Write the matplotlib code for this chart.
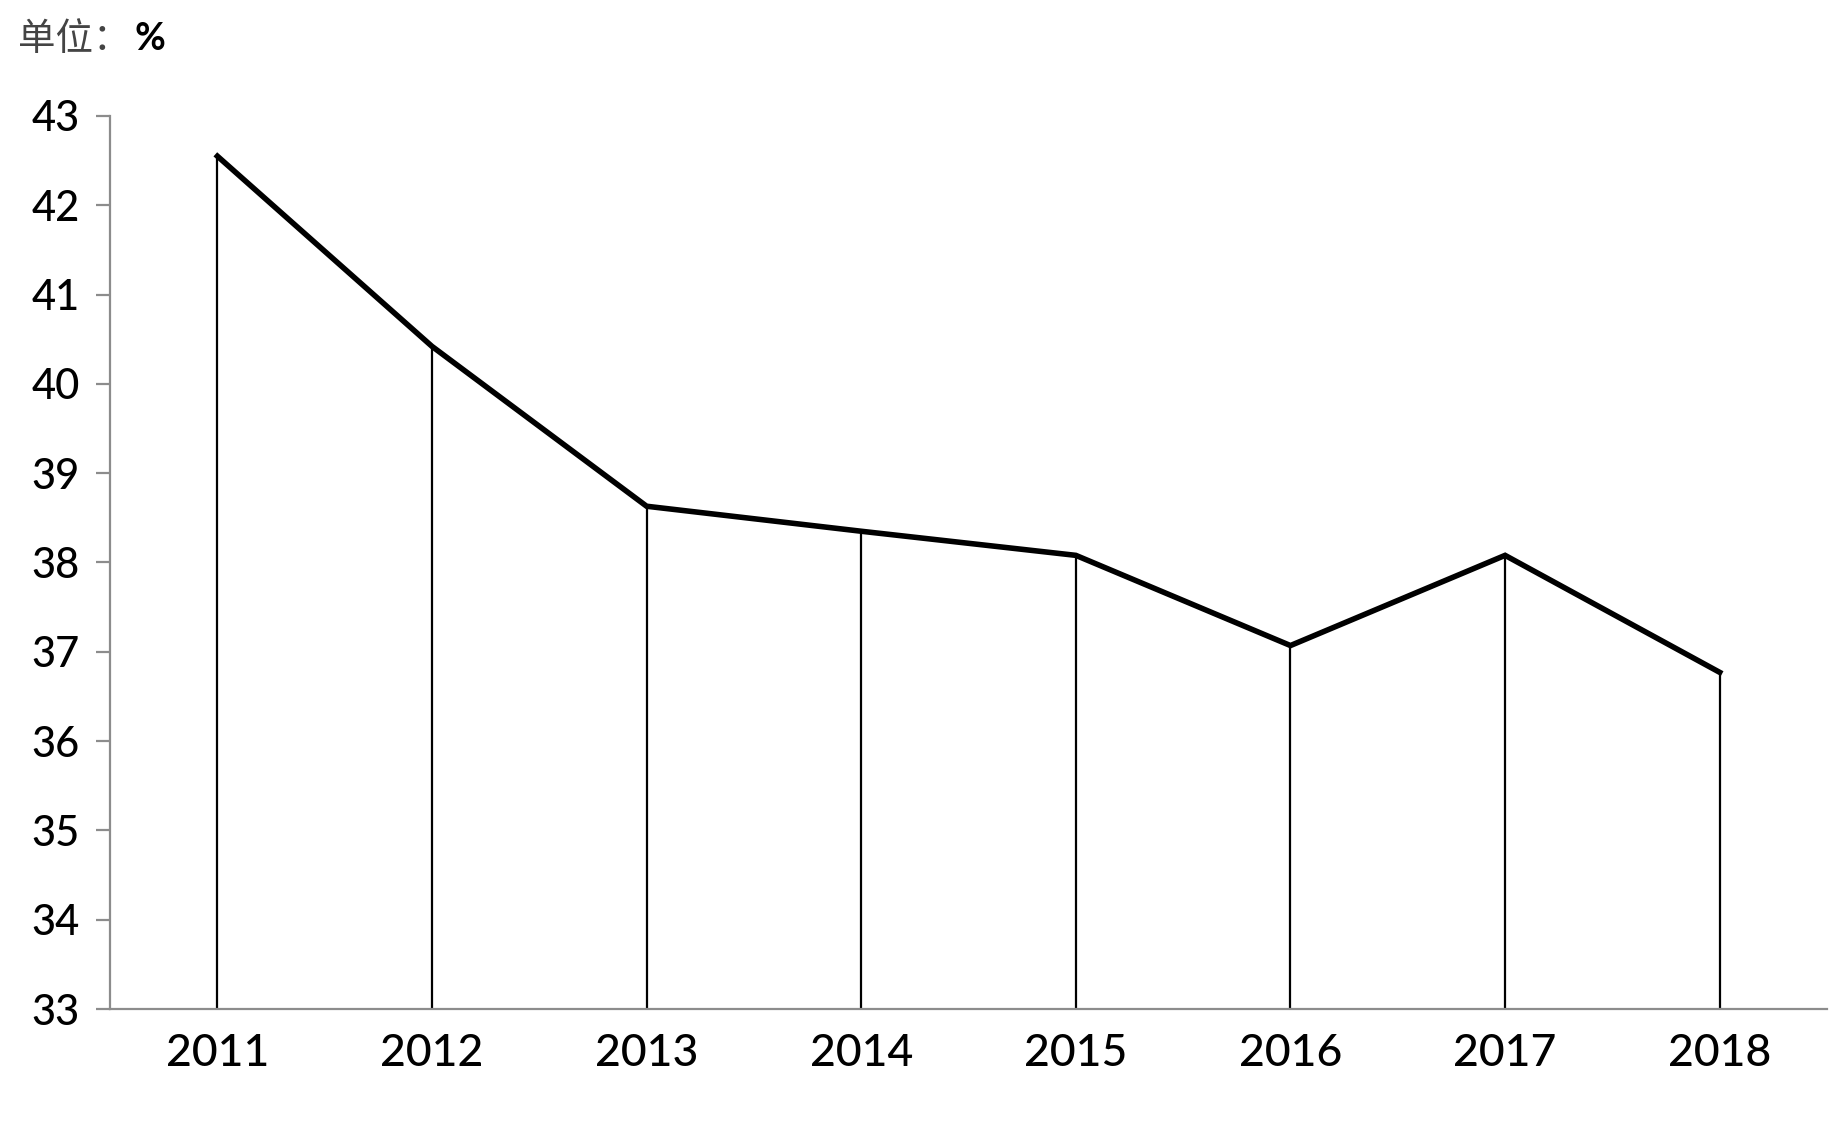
import matplotlib
matplotlib.use("Agg")
import matplotlib.pyplot as plt

years = ["2011", "2012", "2013", "2014", "2015", "2016", "2017", "2018"]
values = [42.55, 40.42, 38.63, 38.35, 38.08, 37.07, 38.08, 36.77]
yticks = list(range(33, 44))

plt.rcParams["font.family"] = ["Lato", "DejaVu Sans"]

fig = plt.figure(figsize=(18.41, 11.25), dpi=100)
ax = fig.add_axes([0.0598, 0.1031, 0.9326, 0.7938])

x = range(len(years))
ax.vlines(x, 33, values, colors="k", lw=1.6, zorder=2)
ax.plot(x, values, color="k", lw=4.0, solid_joinstyle="miter", zorder=3)

ax.set_xlim(-0.5, len(years) - 0.5)
ax.set_ylim(33, 43)
ax.set_yticks(yticks)
ax.set_xticks(list(x))
ax.set_xticklabels(years)

for s in ["top", "right"]:
    ax.spines[s].set_visible(False)
for s in ["left", "bottom"]:
    ax.spines[s].set_color("#8c8c8c")
    ax.spines[s].set_linewidth(1.6)

ax.tick_params(axis="y", length=10, width=1.6, color="#8c8c8c", pad=12, labelsize=30)
ax.tick_params(axis="x", length=0, pad=17, labelsize=32)
for lbl in ax.get_xticklabels() + ax.get_yticklabels():
    lbl.set_fontweight("medium")

fig.text(0.0098, 0.965, "单位：", fontsize=27, color="#444444",
         family=["Noto Sans CJK SC", "DejaVu Sans"], ha="left", va="center")
fig.text(0.0733, 0.965, "%", fontsize=27, color="black", fontweight="bold",
         ha="left", va="center")

fig.savefig("out.png", dpi=100)
